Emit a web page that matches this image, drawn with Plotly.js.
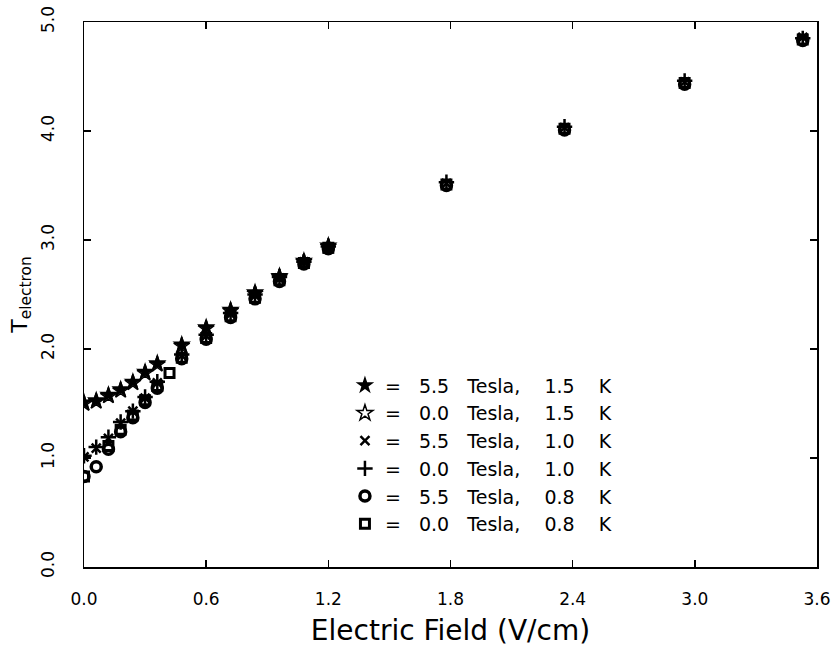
<!DOCTYPE html>
<html>
<head>
<meta charset="utf-8">
<script src="https://cdn.plot.ly/plotly-3.0.1.min.js"></script>
<style>html,body{margin:0;padding:0;background:#fff;}#chart{width:836px;height:651px;}</style>
</head>
<body>
<div id="chart"></div>
<script>
// Electric field (V/cm)
const E_15 = [0, 0.06, 0.12, 0.18, 0.24, 0.30, 0.36, 0.48, 0.60, 0.72, 0.84, 0.96, 1.08, 1.20];
const E_10 = [0, 0.06, 0.12, 0.18, 0.24, 0.30, 0.36, 0.48, 0.60, 0.72, 0.84, 0.96, 1.08, 1.20, 1.78, 2.36, 2.95, 3.53];
const E_08a = [0, 0.06, 0.12, 0.18, 0.24, 0.30, 0.36, 0.48, 0.60, 0.72, 0.84, 0.96, 1.08, 1.20, 1.78, 2.36, 2.95, 3.53];
const E_08b = [0, 0.12, 0.18, 0.24, 0.30, 0.36, 0.42, 0.48, 0.60, 0.72, 0.84, 0.96, 1.08, 1.20, 1.78, 2.36, 2.95, 3.53];

// Electron temperature (K)
const T_55T_15K = [1.51, 1.53, 1.58, 1.63, 1.70, 1.79, 1.87, 2.04, 2.20, 2.36, 2.52, 2.67, 2.81, 2.95];
const T_00T_15K = [1.50, 1.52, 1.57, 1.62, 1.69, 1.78, 1.86, 2.03, 2.19, 2.35, 2.51, 2.66, 2.80, 2.94];
const T_55T_10K = [1.01, 1.09, 1.18, 1.32, 1.43, 1.55, 1.69, 1.94, 2.12, 2.32, 2.49, 2.65, 2.80, 2.93, 3.52, 4.03, 4.45, 4.86];
const T_00T_10K = [1.02, 1.10, 1.19, 1.33, 1.43, 1.56, 1.70, 1.95, 2.13, 2.33, 2.50, 2.66, 2.80, 2.94, 3.53, 4.04, 4.46, 4.85];
const T_55T_08K = [0.83, 0.92, 1.08, 1.24, 1.37, 1.51, 1.64, 1.91, 2.09, 2.29, 2.46, 2.62, 2.78, 2.92, 3.50, 4.01, 4.43, 4.83];
const T_00T_08K = [0.83, 1.11, 1.26, 1.39, 1.53, 1.66, 1.78, 1.92, 2.10, 2.30, 2.47, 2.63, 2.79, 2.93, 3.51, 4.02, 4.44, 4.84];

const legendTesla = ['5.5', '0.0', '5.5', '0.0', '5.5', '0.0'];
const legendKelvin = ['1.5', '1.5', '1.0', '1.0', '0.8', '0.8'];

function nb(n) { return '\u00a0'.repeat(n); }
const names = legendTesla.map((t, i) =>
  '=' + nb(3) + t + nb(3) + 'Tesla,' + nb(4) + legendKelvin[i] + nb(4) + 'K');

function tr(x, y, name, symbol, size, lw) {
  return {
    x: x, y: y, name: name, type: 'scatter', mode: 'markers',
    marker: {symbol: symbol, size: size, color: '#000', line: {color: '#000', width: lw}}
  };
}

const data = [
  tr(E_15, T_55T_15K, names[0], 'star', 14, 0),
  tr(E_15, T_00T_15K, names[1], 'star-open', 12, 1.5),
  tr(E_10, T_55T_10K, names[2], 'x-thin-open', 9, 2.5),
  tr(E_10, T_00T_10K, names[3], 'cross-thin-open', 11, 2.5),
  tr(E_08a, T_55T_08K, names[4], 'circle-open', 10, 3.5),
  tr(E_08b, T_00T_08K, names[5], 'square-open', 9, 3)
];

const font = 'DejaVu Sans, Liberation Sans, sans-serif';

const layout = {
  width: 836, height: 651,
  margin: {l: 84, r: 19, t: 22, b: 84},
  paper_bgcolor: '#fff', plot_bgcolor: '#fff',
  font: {family: font, color: '#000'},
  showlegend: true,
  legend: {
    x: 0.356, y: 0.368, xanchor: 'left', yanchor: 'top',
    bgcolor: 'rgba(0,0,0,0)', borderwidth: 0,
    font: {size: 19, family: font, color: '#000'},
    tracegroupgap: 0, itemwidth: 30
  },
  xaxis: {
    range: [0, 3.6], tickvals: [0, 0.6, 1.2, 1.8, 2.4, 3.0, 3.6],
    ticktext: ['0.0', '0.6', '1.2', '1.8', '2.4', '3.0', '3.6'],
    ticks: 'inside', ticklen: 7, tickwidth: 1.5, tickcolor: '#000',
    showline: true, linecolor: '#000', linewidth: 1.5, mirror: 'ticks',
    showgrid: false, zeroline: false,
    tickfont: {size: 17, family: font},
    ticklabelstandoff: 16,
    title: {text: 'Electric Field (V/cm)', font: {size: 28, family: font}, standoff: 12}
  },
  yaxis: {
    range: [0, 5], tickvals: [0, 1, 2, 3, 4, 5],
    ticktext: ['0.0', '1.0', '2.0', '3.0', '4.0', '5.0'],
    tickangle: -90,
    ticks: 'inside', ticklen: 7, tickwidth: 1.5, tickcolor: '#000',
    showline: true, linecolor: '#000', linewidth: 1.5, mirror: 'ticks',
    showgrid: false, zeroline: false,
    tickfont: {size: 17, family: font},
    ticklabelstandoff: 22,
    title: {text: 'T<sub>electron</sub>', font: {size: 22, family: font}, standoff: 4}
  }
};

Plotly.newPlot('chart', data, layout, {displayModeBar: false, staticPlot: true});
</script>
</body>
</html>
